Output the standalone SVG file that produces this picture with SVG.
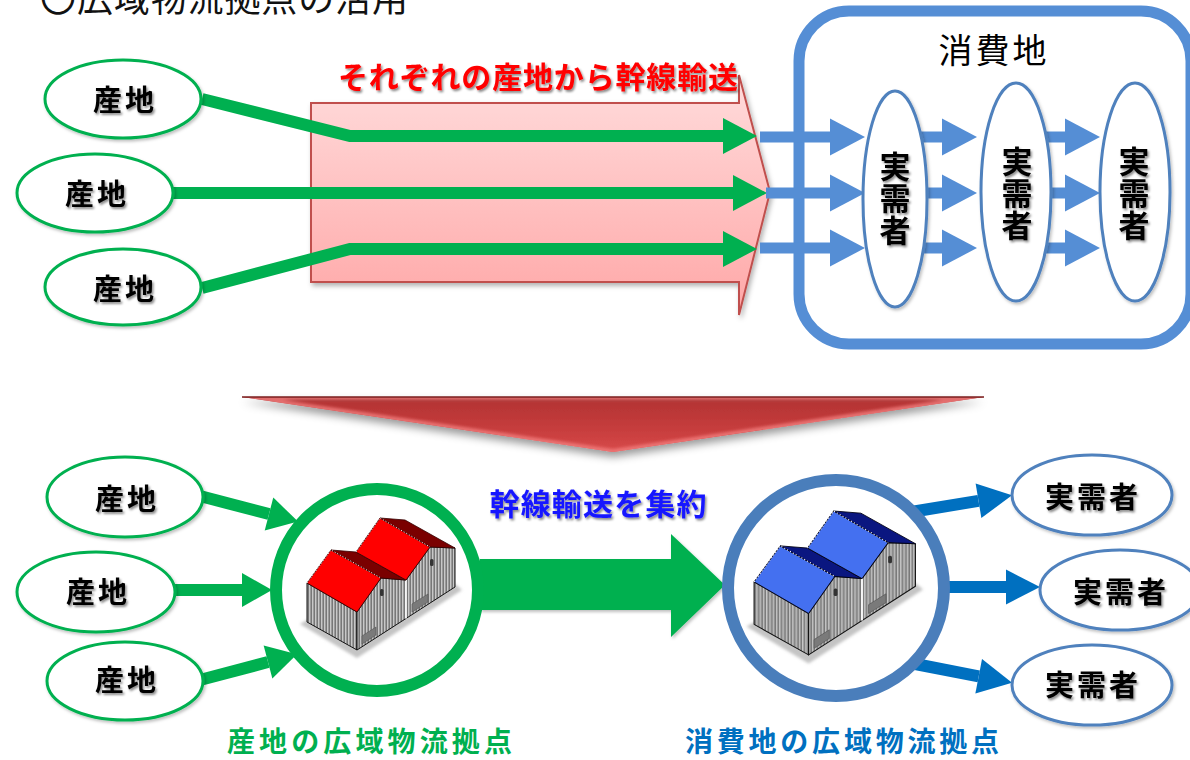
<svg xmlns="http://www.w3.org/2000/svg" xmlns:xlink="http://www.w3.org/1999/xlink" width="1190" height="760" viewBox="0 0 1190 760">
  <style>
    text { font-family: "Noto Sans CJK JP", "Noto Sans", sans-serif; }
    .b { font-weight: bold; }
    .lbl { font-size: 29px; font-weight: bold; fill: #000; text-anchor: middle; letter-spacing: 3px; }
    .vlbl { font-size: 31px; font-weight: bold; fill: #000; text-anchor: middle; writing-mode: vertical-rl; letter-spacing: 1px; }
    .ov-g { fill: #fff; stroke: #00b050; stroke-width: 3; }
    .ov-b { fill: #fff; stroke: #4f81bd; stroke-width: 3; }
    .sh-g { fill: none; stroke: #00b050; stroke-width: 12; }
    .sh-b { fill: none; stroke: #558ed5; stroke-width: 11; }
    .sh-d { fill: none; stroke: #0070c0; stroke-width: 12; }
    .wall { fill: url(#corr); stroke: #111; stroke-width: 1; stroke-linejoin: round; }
    .edge { fill: none; stroke: #fff; stroke-width: 1; stroke-dasharray: 1 2; }
  </style>
  <defs>
    <filter id="ts" x="-10%" y="-30%" width="125%" height="170%">
      <feDropShadow dx="1.5" dy="2" stdDeviation="1.3" flood-color="#000" flood-opacity="0.45"/>
    </filter>
    <filter id="ss" x="-10%" y="-10%" width="130%" height="140%">
      <feDropShadow dx="2" dy="3" stdDeviation="2.5" flood-color="#000" flood-opacity="0.3"/>
    </filter>
    <filter id="os" x="-10%" y="-15%" width="125%" height="140%">
      <feDropShadow dx="1.5" dy="2" stdDeviation="1.5" flood-color="#000" flood-opacity="0.25"/>
    </filter>
    <filter id="chs" x="-5%" y="-20%" width="110%" height="170%">
      <feDropShadow dx="0" dy="5" stdDeviation="4" flood-color="#000" flood-opacity="0.4"/>
    </filter>
    <filter id="soft"><feGaussianBlur stdDeviation="1.5"/></filter>
    <linearGradient id="pink" x1="0" y1="0" x2="0" y2="1">
      <stop offset="0" stop-color="#ffdcdc"/>
      <stop offset="1" stop-color="#ffa7a7"/>
    </linearGradient>
    <linearGradient id="chev" x1="0" y1="0" x2="0" y2="1">
      <stop offset="0" stop-color="#8a2626"/>
      <stop offset="0.1" stop-color="#b53434"/>
      <stop offset="0.55" stop-color="#c53c3c"/>
      <stop offset="1" stop-color="#d84a4a"/>
    </linearGradient>
    <clipPath id="chevclip">
      <polygon points="242,397 984,397 613,452"/>
    </clipPath>
    <pattern id="corr" width="3" height="10" patternUnits="userSpaceOnUse">
      <rect width="3" height="10" fill="#9a9a9a"/>
      <rect x="0" width="1" height="10" fill="#c8c8c8"/>
      <rect x="2" width="1" height="10" fill="#777"/>
    </pattern>
    <marker id="hg" markerUnits="userSpaceOnUse" markerWidth="40" markerHeight="40" refX="0" refY="0" orient="auto" overflow="visible">
      <path d="M0,-18 L34,0 L0,18 Z" fill="#00b050"/>
    </marker>
    <marker id="hb" markerUnits="userSpaceOnUse" markerWidth="40" markerHeight="40" refX="0" refY="0" orient="auto" overflow="visible">
      <path d="M0,-18.5 L35,0 L0,18.5 Z" fill="#558ed5"/>
    </marker>
    <marker id="hg2" markerUnits="userSpaceOnUse" markerWidth="40" markerHeight="40" refX="0" refY="0" orient="auto" overflow="visible">
      <path d="M0,-17 L30,0 L0,17 Z" fill="#00b050"/>
    </marker>
    <marker id="hd" markerUnits="userSpaceOnUse" markerWidth="40" markerHeight="40" refX="0" refY="0" orient="auto" overflow="visible">
      <path d="M0,-17.5 L34,0 L0,17.5 Z" fill="#0070c0"/>
    </marker>
    <!-- twin-gable warehouse body, roofs are added per instance -->
    <g id="shed-body">
      <polygon points="-6,106 51,140 156,72 149,66 51,130 1,102" fill="#c4c4c4" filter="url(#soft)"/>
      <polygon class="wall" points="1,65 51,94 51,132 1,104"/>
      <polygon class="wall" points="51,94 75,60 100,62 124,29 149,30 149,69 51,132"/>
      <line x1="100" y1="62" x2="100" y2="100.5" stroke="#fff" stroke-width="1.6"/>
      <rect x="74" y="71" width="3.5" height="7" rx="1.5" fill="#333"/>
      <rect x="124" y="41" width="3.5" height="7" rx="1.5" fill="#333"/>
      <polygon points="56,118 70,109 70,117 56,126" fill="#7a7a7a" stroke="#555" stroke-width="0.6"/>
      <polygon points="106,86 122,76 122,84 106,94" fill="#7a7a7a" stroke="#555" stroke-width="0.6"/>
    </g>
  </defs>

  <rect width="1190" height="760" fill="#fff"/>

  <!-- heading -->
  <text x="40" y="12" font-size="36" fill="#111" textLength="368">〇広域物流拠点の活用</text>

  <!-- ===== upper part: direct trunk transport ===== -->
  <g id="trunk-band">
    <polygon points="311,103 739,103 739,75 770,192 739,315 739,282 311,282" fill="url(#pink)" stroke="#c0504d" stroke-width="2" filter="url(#ss)"/>
    <text x="338" y="88" font-size="30" class="b" fill="#ff0000" textLength="400" filter="url(#ts)">それぞれの産地から幹線輸送</text>
  </g>

  <g id="consumer-area">
    <rect x="799" y="11" width="392" height="333" rx="50" ry="50" fill="#fff" stroke="#558ed5" stroke-width="11"/>
    <text x="994" y="63" font-size="34" fill="#000" text-anchor="middle" letter-spacing="3">消費地</text>
  </g>

  <g id="connectors-top">
    <polyline class="sh-g" points="202,99 350,136 723,136" marker-end="url(#hg)"/>
    <polyline class="sh-g" points="173,193 733,193" marker-end="url(#hg)"/>
    <polyline class="sh-g" points="202,288 350,249 723,249" marker-end="url(#hg)"/>
    <line class="sh-b" x1="760" y1="137" x2="830" y2="137" marker-end="url(#hb)"/>
    <line class="sh-b" x1="766" y1="193" x2="830" y2="193" marker-end="url(#hb)"/>
    <line class="sh-b" x1="760" y1="248" x2="830" y2="248" marker-end="url(#hb)"/>
    <line class="sh-b" x1="915" y1="137" x2="942" y2="137" marker-end="url(#hb)"/>
    <line class="sh-b" x1="915" y1="193" x2="942" y2="193" marker-end="url(#hb)"/>
    <line class="sh-b" x1="915" y1="248" x2="942" y2="248" marker-end="url(#hb)"/>
    <line class="sh-b" x1="1040" y1="137" x2="1065" y2="137" marker-end="url(#hb)"/>
    <line class="sh-b" x1="1040" y1="193" x2="1065" y2="193" marker-end="url(#hb)"/>
    <line class="sh-b" x1="1040" y1="248" x2="1065" y2="248" marker-end="url(#hb)"/>
  </g>

  <g id="user-1">
    <ellipse class="ov-b" cx="895" cy="199" rx="32" ry="108" filter="url(#os)"/>
    <text class="vlbl" x="895" y="199" filter="url(#ts)">実需者</text>
  </g>
  <g id="user-2">
    <ellipse class="ov-b" cx="1016" cy="192" rx="35" ry="109" filter="url(#os)"/>
    <text class="vlbl" x="1017" y="194" filter="url(#ts)">実需者</text>
  </g>
  <g id="user-3">
    <ellipse class="ov-b" cx="1135" cy="192" rx="35" ry="109" filter="url(#os)"/>
    <text class="vlbl" x="1134" y="194" filter="url(#ts)">実需者</text>
  </g>

  <g id="origin-1">
    <ellipse class="ov-g" cx="123" cy="99" rx="78" ry="39" filter="url(#os)"/>
    <text class="lbl" x="125" y="111" filter="url(#ts)">産地</text>
  </g>
  <g id="origin-2">
    <ellipse class="ov-g" cx="95" cy="193" rx="78" ry="39" filter="url(#os)"/>
    <text class="lbl" x="97" y="205" filter="url(#ts)">産地</text>
  </g>
  <g id="origin-3">
    <ellipse class="ov-g" cx="123" cy="287" rx="78" ry="38" filter="url(#os)"/>
    <text class="lbl" x="125" y="300" filter="url(#ts)">産地</text>
  </g>

  <!-- transition chevron -->
  <g id="chevron">
    <polygon points="242,397 984,397 613,452" fill="url(#chev)" filter="url(#chs)"/>
    <polygon points="242,397 984,397 613,452" fill="none" stroke="#f27e7e" stroke-width="6" clip-path="url(#chevclip)" filter="url(#soft)" opacity="0.8"/>
    <line x1="242" y1="397" x2="984" y2="397" stroke="#7a1e1e" stroke-width="1.5"/>
  </g>

  <!-- ===== lower part: via regional logistics hubs ===== -->
  <g id="connectors-bottom">
    <line class="sh-g" x1="200" y1="496" x2="269" y2="514" marker-end="url(#hg2)"/>
    <line class="sh-g" x1="175" y1="590" x2="242" y2="590" marker-end="url(#hg2)"/>
    <line class="sh-g" x1="200" y1="680" x2="268" y2="662" marker-end="url(#hg2)"/>
    <polygon points="480,559 671,559 671,534 725,585 671,637 671,610 480,610" fill="#00b050" filter="url(#os)"/>
    <line class="sh-d" x1="905" y1="513" x2="978.5" y2="500.8" marker-end="url(#hd)"/>
    <line class="sh-d" x1="935" y1="587" x2="1006" y2="587" marker-end="url(#hd)"/>
    <line class="sh-d" x1="905" y1="662" x2="978.7" y2="676.3" marker-end="url(#hd)"/>
  </g>

  <g id="origin-4">
    <ellipse class="ov-g" cx="125" cy="497" rx="78" ry="40" filter="url(#os)"/>
    <text class="lbl" x="127" y="510" filter="url(#ts)">産地</text>
  </g>
  <g id="origin-5">
    <ellipse class="ov-g" cx="96" cy="592" rx="79" ry="40" filter="url(#os)"/>
    <text class="lbl" x="98" y="603" filter="url(#ts)">産地</text>
  </g>
  <g id="origin-6">
    <ellipse class="ov-g" cx="125" cy="681" rx="78" ry="39" filter="url(#os)"/>
    <text class="lbl" x="127" y="691" filter="url(#ts)">産地</text>
  </g>

  <text x="598" y="515" font-size="30" class="b" fill="#1515ff" text-anchor="middle" textLength="217" filter="url(#ts)">幹線輸送を集約</text>

  <g id="hub-origin">
    <circle cx="377" cy="590" r="101" fill="#fff" stroke="#00b050" stroke-width="12"/>
    <g transform="translate(306,518)">
      <use xlink:href="#shed-body" href="#shed-body"/>
      <polygon points="1,65 25,32 75,60 51,94" fill="#ff0000" stroke="#300" stroke-width="0.8"/>
      <polygon points="25,32 50,34 100,62 75,60" fill="#7a0000" stroke="#300" stroke-width="0.8"/>
      <polygon points="50,34 74,0 124,29 100,62" fill="#ff0000" stroke="#300" stroke-width="0.8"/>
      <polygon points="74,0 99,2 149,30 124,29" fill="#7a0000" stroke="#300" stroke-width="0.8"/>
      <polyline class="edge" points="1,65 25,32 75,60"/>
      <polyline class="edge" points="50,34 74,0 124,29"/>
    </g>
    <text x="227" y="752" font-size="28" class="b" fill="#00b050" textLength="285">産地の広域物流拠点</text>
  </g>

  <g id="hub-consumer">
    <circle cx="836" cy="588" r="108" fill="#fff" stroke="#4a7ebb" stroke-width="12"/>
    <g transform="translate(753,511) scale(1.09)">
      <use xlink:href="#shed-body" href="#shed-body"/>
      <polygon points="1,65 25,32 75,60 51,94" fill="#4470f0" stroke="#001" stroke-width="0.8"/>
      <polygon points="25,32 50,34 100,62 75,60" fill="#0a1680" stroke="#001" stroke-width="0.8"/>
      <polygon points="50,34 74,0 124,29 100,62" fill="#4470f0" stroke="#001" stroke-width="0.8"/>
      <polygon points="74,0 99,2 149,30 124,29" fill="#0a1680" stroke="#001" stroke-width="0.8"/>
      <polyline class="edge" points="1,65 25,32 75,60"/>
      <polyline class="edge" points="50,34 74,0 124,29"/>
    </g>
    <text x="685" y="752" font-size="28" class="b" fill="#0070c0" textLength="314">消費地の広域物流拠点</text>
  </g>

  <g id="user-4">
    <ellipse class="ov-b" cx="1092" cy="495" rx="80" ry="40" filter="url(#os)"/>
    <text class="lbl" x="1093" y="508" letter-spacing="2" filter="url(#ts)">実需者</text>
  </g>
  <g id="user-5">
    <ellipse class="ov-b" cx="1120" cy="590" rx="80" ry="40" filter="url(#os)"/>
    <text class="lbl" x="1121" y="603" letter-spacing="2" filter="url(#ts)">実需者</text>
  </g>
  <g id="user-6">
    <ellipse class="ov-b" cx="1092" cy="685" rx="80" ry="40" filter="url(#os)"/>
    <text class="lbl" x="1093" y="696" letter-spacing="2" filter="url(#ts)">実需者</text>
  </g>
</svg>
